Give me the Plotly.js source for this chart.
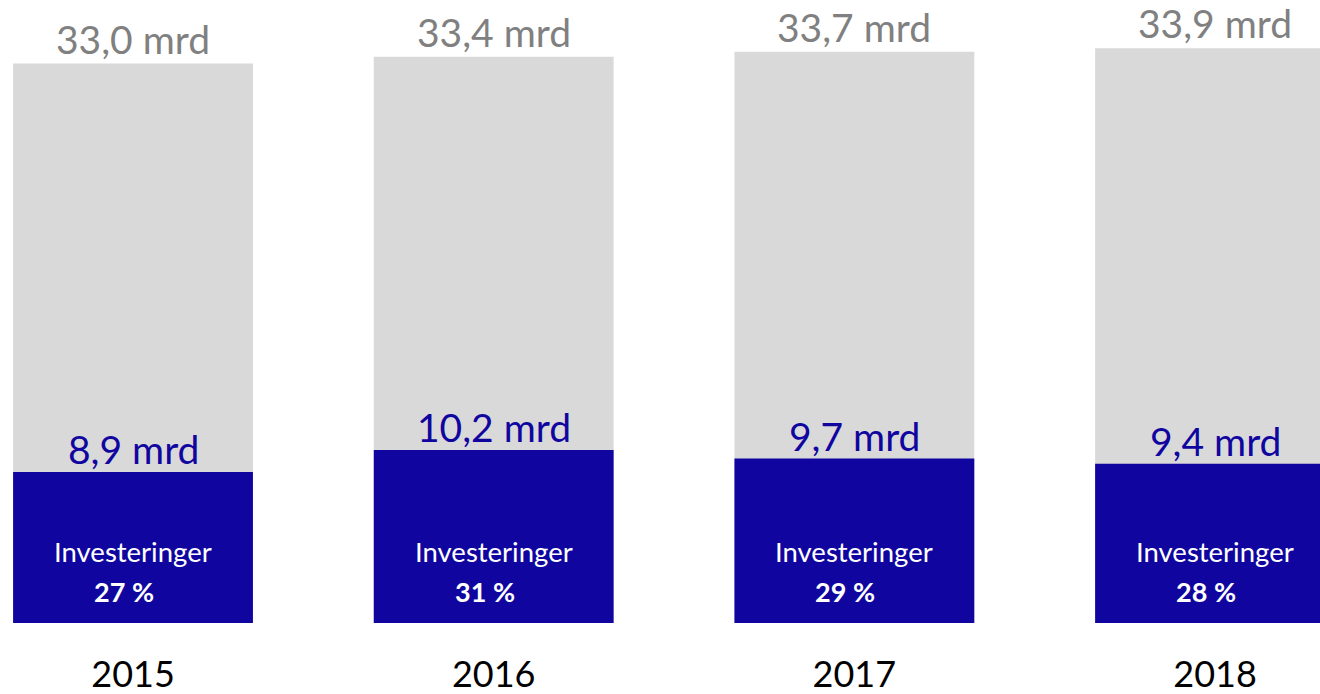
<!DOCTYPE html>
<html>
<head>
<meta charset="utf-8">
<script src="https://cdn.plot.ly/plotly-3.0.1.min.js"></script>
<style>html,body{margin:0;padding:0;background:#fff;}#chart{width:1320px;height:694px;}</style>
</head>
<body>
<div id="chart"></div>
<script>
const years = ['2015', '2016', '2017', '2018'];
const totalValues = [33.0, 33.4, 33.7, 33.9];
const investValues = [8.9, 10.2, 9.7, 9.4];
const investShares = [27, 31, 29, 28];
const investLabel = 'Investeringer';

const FONT = 'Lato, "Open Sans", sans-serif';
const GRAY_BAR = '#d9d9d9';
const BLUE_BAR = '#10069f';
const fmt = v => v.toFixed(1).replace('.', ',') + ' mrd';
const xs = years.map((_, i) => i);

const traces = [
  {type: 'bar', x: xs, y: totalValues, width: 0.665,
   marker: {color: GRAY_BAR, line: {width: 0}}, hoverinfo: 'skip'},
  {type: 'bar', x: xs, y: investValues, width: 0.665,
   marker: {color: BLUE_BAR, line: {width: 0}}, hoverinfo: 'skip'}
];

const annotations = [];
xs.forEach((xv, i) => {
  annotations.push({x: xv, y: totalValues[i], xref: 'x', yref: 'y', text: fmt(totalValues[i]),
    showarrow: false, yanchor: 'bottom', yshift: 0,
    font: {family: FONT, size: 39, color: '#808080'}});
  annotations.push({x: xv, y: investValues[i], xref: 'x', yref: 'y', text: fmt(investValues[i]),
    showarrow: false, yanchor: 'bottom', yshift: -2,
    font: {family: FONT, size: 39, color: BLUE_BAR}});
  annotations.push({x: xv, y: 0, xref: 'x', yref: 'y', text: investLabel,
    showarrow: false, yanchor: 'middle', yshift: 72,
    font: {family: FONT, size: 27.5, color: '#ffffff'}});
  annotations.push({x: xv, y: 0, xref: 'x', yref: 'y', text: '<b>' + investShares[i] + ' %</b>',
    showarrow: false, yanchor: 'middle', xshift: -9, yshift: 32,
    font: {family: FONT, size: 27, color: '#ffffff'}});
});

const layout = {
  width: 1320, height: 694,
  margin: {l: 0, r: 0, t: 0, b: 71, pad: 0},
  paper_bgcolor: '#ffffff', plot_bgcolor: '#ffffff',
  barmode: 'overlay',
  showlegend: false,
  xaxis: {type: 'linear', range: [-0.3688, 3.291], tickmode: 'array', tickvals: xs, ticktext: years,
    showgrid: false, zeroline: false,
    showline: false, ticks: 'outside', ticklen: 20, tickcolor: 'rgba(0,0,0,0)',
    tickfont: {family: FONT, size: 36, color: '#000000'}, fixedrange: true},
  yaxis: {range: [0, 36.75], showgrid: false, zeroline: false, showline: false,
    showticklabels: false, ticks: '', fixedrange: true},
  annotations: annotations
};

Plotly.newPlot('chart', traces, layout, {displayModeBar: false}).catch(e => {
  document.body.insertAdjacentHTML('beforeend', '<pre>' + e + '</pre>');
});
</script>
</body>
</html>
